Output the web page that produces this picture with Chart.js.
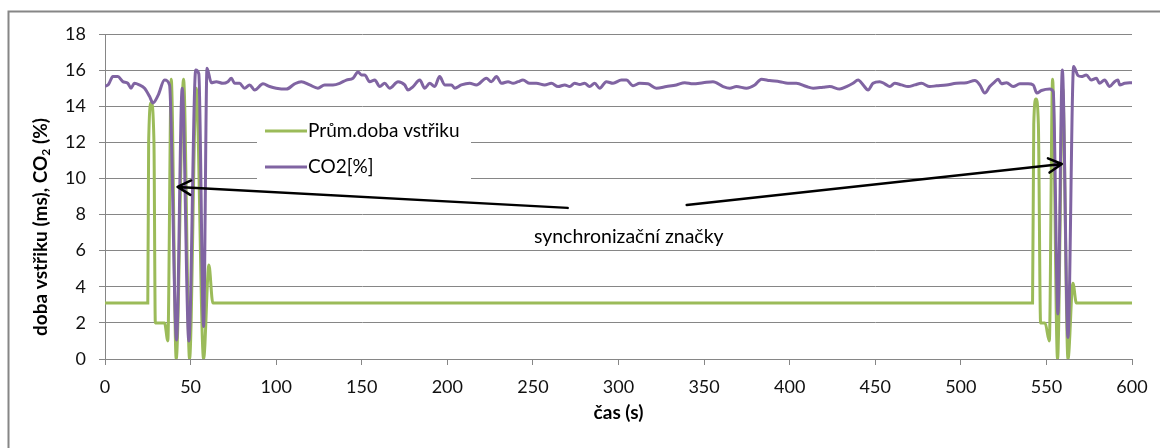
<!DOCTYPE html>
<html>
<head>
<meta charset="utf-8">
<script src="https://cdn.jsdelivr.net/npm/chart.js@4.4.1/dist/chart.umd.min.js"></script>
<style>
  html, body { margin: 0; padding: 0; background: #fff; }
  #wrap { position: relative; width: 1160px; height: 448px; }
</style>
</head>
<body>
<div id="wrap"><canvas id="chart" width="1160" height="448"></canvas></div>
<script>
// Průměrná doba vstřiku (ms) vs. čas (s)
const injTime = [0, 25, 25.5, 27, 28.6, 29.4, 34.8, 36.7, 38.7, 41.6, 45.9, 49.4, 53.3, 57.6, 60.7, 63,
  541.9, 542.6, 543.9, 545.3, 546.6, 549.2, 551.7, 553.6, 556.5, 559.5, 562.6, 565.5, 567.5, 600];
const injVal = [3.1, 3.1, 12, 14.2, 12, 2.0, 2.0, 1.0, 15.5, 0, 15.5, 0, 15, 0, 5.2, 3.1,
  3.1, 13, 14.4, 13, 2.0, 2.0, 1.0, 15.5, 0, 15, 0, 4.2, 3.1, 3.1];

// CO2 (%) vs. čas (s)
const co2Time = [0, 2, 4.6, 7.5, 10.4, 13.3, 15.2, 17.2, 20.1, 23.1, 26, 28, 31, 34.8, 37.7,
  41.8, 45.1, 49.0, 53.0, 54.8, 57.6, 59.6, 62.1, 65, 68.9, 71.8, 73.8, 75.7, 78.6, 81.5, 84.5,
  87.4, 92.3, 96.2, 100, 106, 110.8, 114.7, 119.6, 124.4, 128.3, 133.2, 137.1, 141, 144.9,
  147.8, 149.8, 151.7, 154.6, 157.6, 160.5, 163.4, 166.3, 171.2, 175.1, 177, 180, 183.9, 186.8,
  189.7, 192.6, 195.5, 198.5, 202.4, 204.3, 208.2, 213.1, 217, 222.8, 225.7, 228.7, 231.6,
  235.5, 238.4, 241.3, 244.2, 248.1, 252, 256.9, 260.8, 264.7, 268.6, 271.5, 274.4, 277.4,
  280.2, 283.1, 286.1, 289, 292.9, 296.8, 301.7, 304.6, 308.5, 312.4, 317.2, 322.1, 328, 333.8,
  338.7, 343.5, 349.4, 355.2, 361.1, 365, 368.9, 374.7, 379.6, 383.5, 388.3, 394.2, 399, 403.9,
  409.8, 413.7, 419.5, 423.4, 429.3, 433.2, 437, 440, 442.9, 445.8, 448.7, 452.6, 455.6, 458.5,
  461.4, 465.3, 469.2, 473.1, 477, 481.8, 485.8, 491.6, 497.4, 503.3, 508.2, 511.1, 514, 516.9,
  519.9, 521.8, 523.7, 526.7, 530.6, 534.5, 539.3, 542.3, 544.4, 547.1, 552, 554, 556.7, 559.3,
  562.6, 565.9, 568.4, 570.4, 573.3, 576.2, 579.2, 581, 584, 586.9, 589.8, 591.8, 592.8, 595.7,
  598.6, 600];
const co2Val = [15.1, 15.2, 15.64, 15.64, 15.36, 15.27, 15.0, 15.27, 15.18, 15.0, 14.55, 14.18, 14.6, 15.45, 15.18,
  1.05, 15.0, 1.0, 16.0, 15.8, 1.8, 16.1, 15.3, 15.36, 15.27, 15.36, 15.55, 15.27, 15.27, 15.0, 15.18,
  14.9, 15.24, 15.09, 15.0, 14.95, 15.24, 15.36, 15.18, 15.0, 15.18, 15.18, 15.27, 15.45, 15.55,
  15.9, 15.73, 15.73, 15.36, 15.45, 15.09, 15.27, 15.0, 15.36, 15.18, 14.9, 15.09, 15.45, 15.0,
  15.27, 15.09, 15.64, 15.18, 15.18, 15.0, 15.18, 15.27, 15.18, 15.55, 15.36, 15.64, 15.27,
  15.36, 15.27, 15.36, 15.45, 15.27, 15.27, 15.18, 15.27, 15.09, 15.18, 15.09, 15.27, 15.2,
  15.27, 15.09, 15.27, 15.0, 15.36, 15.27, 15.45, 15.45, 15.13, 15.27, 15.24, 15.0, 15.09, 15.18,
  15.3, 15.24, 15.3, 15.36, 15.09, 15.0, 15.09, 15.0, 15.18, 15.5, 15.42, 15.36, 15.27, 15.27,
  15.09, 15.0, 15.05, 15.09, 14.95, 15.09, 15.27, 15.45, 15.18, 14.9, 15.27, 15.36, 15.24, 15.09,
  15.27, 15.18, 15.09, 15.18, 15.27, 15.09, 15.13, 15.18, 15.27, 15.3, 15.42, 15.18, 14.73, 15.09,
  15.36, 15.5, 15.24, 15.3, 15.09, 15.24, 15.24, 15.18, 14.73, 14.87, 14.95, 14.8, 2.5, 16.0,
  1.2, 16.2, 15.7, 15.64, 15.73, 15.45, 15.55, 15.27, 15.45, 15.09, 15.36, 15.45, 15.18, 15.27,
  15.3, 15.3];

const seriesNames = ["Prům.doba vstřiku", "CO2[%]"];
const xTicks = { min: 0, max: 600, step: 50 };
const yTicks = { min: 0, max: 18, step: 2 };

// popisek se šipkami na synchronizační značky (v jednotkách os)
const syncLabel = { text: "synchronizační značky", x: 306, y: 6.75 };
const syncArrows = [
  { from: [270.3, 8.37], to: [42.4, 9.53] },
  { from: [339.8, 8.53], to: [559.0, 10.8] }
];

const FONT = "Lato, 'Open Sans', sans-serif";
const GRID = "#868686";
const GREEN = "#9BBB59";
const PURPLE = "#8064A2";

function toPoints(xs, ys) {
  return xs.map((x, i) => ({ x: x, y: ys[i] }));
}

function drawArrow(ctx, x1, y1, x2, y2) {
  const ang = Math.atan2(y2 - y1, x2 - x1);
  const len = 15, spread = 0.5;
  ctx.beginPath();
  ctx.moveTo(x1, y1);
  ctx.lineTo(x2, y2);
  ctx.moveTo(x2 - len * Math.cos(ang - spread), y2 - len * Math.sin(ang - spread));
  ctx.lineTo(x2, y2);
  ctx.lineTo(x2 - len * Math.cos(ang + spread), y2 - len * Math.sin(ang + spread));
  ctx.stroke();
}

const extras = {
  id: "extras",
  beforeDraw(chart) {
    const ctx = chart.ctx;
    ctx.save();
    // rámeček grafu (vlevo a nahoře)
    ctx.strokeStyle = GRID;
    ctx.lineWidth = 2;
    ctx.beginPath();
    ctx.moveTo(8.5, chart.height);
    ctx.lineTo(8.5, 11.5);
    ctx.lineTo(chart.width, 11.5);
    ctx.stroke();

    // název osy y s dolním indexem u CO2
    const a = "doba vstřiku (ms), CO", b = "2", c = " (%)";
    ctx.translate(41, 227);
    ctx.rotate(-Math.PI / 2);
    ctx.fillStyle = "#000";
    ctx.textBaseline = "middle";
    ctx.font = "bold 19px " + FONT;
    const wa = ctx.measureText(a).width, wc = ctx.measureText(c).width;
    ctx.font = "bold 12px " + FONT;
    const wb = ctx.measureText(b).width;
    let x0 = -(wa + wb + wc) / 2;
    ctx.font = "bold 19px " + FONT;
    ctx.fillText(a, x0, 0);
    ctx.font = "bold 12px " + FONT;
    ctx.fillText(b, x0 + wa, 5);
    ctx.font = "bold 19px " + FONT;
    ctx.fillText(c, x0 + wa + wb, 0);
    ctx.restore();
  },
  beforeDatasetsDraw(chart) {
    // legenda uvnitř plochy grafu
    const ctx = chart.ctx, area = chart.chartArea;
    const left = area.left + 152, top = area.top + 76;
    ctx.save();
    ctx.fillStyle = "#fff";
    ctx.fillRect(left, top, 214, 74);
    ctx.font = "19px " + FONT;
    ctx.textBaseline = "middle";
    chart.data.datasets.forEach((ds, i) => {
      const y = top + 21 + i * 36;
      ctx.strokeStyle = ds.borderColor;
      ctx.lineWidth = 3;
      ctx.beginPath();
      ctx.moveTo(left + 8, y);
      ctx.lineTo(left + 50, y);
      ctx.stroke();
      ctx.fillStyle = "#000";
      ctx.fillText(ds.label, left + 51, y);
    });
    ctx.restore();
  },
  afterDatasetsDraw(chart) {
    const ctx = chart.ctx, sx = chart.scales.x, sy = chart.scales.y;
    ctx.save();
    ctx.strokeStyle = "#000";
    ctx.lineWidth = 2.5;
    ctx.lineCap = "round";
    ctx.lineJoin = "round";
    syncArrows.forEach((a) => {
      drawArrow(ctx,
        sx.getPixelForValue(a.from[0]), sy.getPixelForValue(a.from[1]),
        sx.getPixelForValue(a.to[0]), sy.getPixelForValue(a.to[1]));
    });
    ctx.fillStyle = "#000";
    ctx.font = "19.5px " + FONT;
    ctx.textAlign = "center";
    ctx.textBaseline = "middle";
    ctx.fillText(syncLabel.text, sx.getPixelForValue(syncLabel.x), sy.getPixelForValue(syncLabel.y));
    ctx.restore();
  }
};

const ctx = document.getElementById("chart").getContext("2d");
const chart = new Chart(ctx, {
  type: "line",
  data: {
    datasets: [
      {
        label: seriesNames[0],
        data: toPoints(injTime, injVal),
        borderColor: GREEN,
        borderWidth: 3,
        pointRadius: 0,
        cubicInterpolationMode: "monotone",
        order: 1
      },
      {
        label: seriesNames[1],
        data: toPoints(co2Time, co2Val),
        borderColor: PURPLE,
        borderWidth: 3,
        pointRadius: 0,
        cubicInterpolationMode: "monotone",
        order: 0
      }
    ]
  },
  options: {
    responsive: false,
    devicePixelRatio: 1,
    animation: false,
    layout: { padding: { top: 34, right: 28, left: 0, bottom: 0 } },
    plugins: {
      legend: { display: false },
      tooltip: { enabled: false }
    },
    scales: {
      x: {
        type: "linear",
        min: xTicks.min,
        max: xTicks.max,
        afterFit: (axis) => { axis.height = 89; },
        border: { color: GRID, width: 1 },
        grid: { drawOnChartArea: false, color: GRID, tickLength: 6 },
        ticks: {
          stepSize: xTicks.step,
          autoSkip: false,
          maxRotation: 0,
          padding: 11,
          color: "#111",
          font: { family: FONT, size: 18 }
        },
        title: {
          display: true,
          text: "čas (s)",
          color: "#000",
          font: { family: FONT, size: 19, weight: "bold" },
          padding: { top: 0, bottom: 24 }
        }
      },
      y: {
        min: yTicks.min,
        max: yTicks.max,
        afterFit: (axis) => { axis.width = 105; },
        border: { color: GRID, width: 1 },
        grid: { color: GRID, tickLength: 6 },
        ticks: {
          stepSize: yTicks.step,
          padding: 13,
          color: "#111",
          font: { family: FONT, size: 18 }
        }
      }
    }
  },
  plugins: [extras]
});
</script>
</body>
</html>
